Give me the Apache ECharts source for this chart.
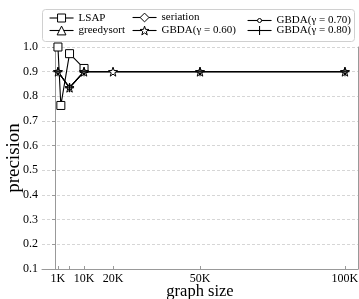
<!DOCTYPE html>
<html><head><meta charset="utf-8">
<script src="https://cdn.jsdelivr.net/npm/echarts@6/dist/echarts.min.js"></script>
<style>html,body{margin:0;padding:0;background:#fff}#c{width:359px;height:299px}</style>
</head><body><div id="c"></div>
<script>
// graph sizes in thousands
const lsapX = [1, 2, 5, 10];
const lsapY = [1.0, 0.763, 0.973, 0.913];
const greedyX = [];
const greedyY = [];
const seriationX = [];
const seriationY = [];
const gbda60X = [1, 5, 10, 20, 50, 100];
const gbda60Y = [0.9, 0.835, 0.9, 0.9, 0.9, 0.9];
const gbda70X = [1, 5, 10, 50, 100];
const gbda70Y = [0.9, 0.835, 0.9, 0.9, 0.9];
const gbda80X = [1, 5, 10, 50, 100];
const gbda80Y = [0.9, 0.835, 0.9, 0.9, 0.9];
const xTicks = [1, 5, 10, 20, 50, 100];
const xTickLabels = [1, 10, 20, 50, 100];
const yTicks = [0.1, 0.2, 0.3, 0.4, 0.5, 0.6, 0.7, 0.8, 0.9, 1.0];
const names = ['LSAP', 'greedysort', 'seriation', 'GBDA(γ = 0.60)', 'GBDA(γ = 0.70)', 'GBDA(γ = 0.80)'];

const FONT = '"Liberation Serif", "DejaVu Serif", serif';
const STAR = 'path://M0,-10 L2.35,-3.24 L9.51,-3.09 L3.8,1.24 L5.88,8.09 L0,4 L-5.88,8.09 L-3.8,1.24 L-9.51,-3.09 L-2.35,-3.24 Z';
const PLUS = 'path://M-0.6,-5 H0.6 V-0.6 H5 V0.6 H0.6 V5 H-0.6 V0.6 H-5 V-0.6 H-0.6 Z';

function zip(xs, ys) { return xs.map((x, i) => [x, ys[i]]); }
function mk(name, xs, ys, symbol, size, filled) {
  return {
    name, type: 'line', data: zip(xs, ys), symbol, symbolSize: size,
    showAllSymbol: true,
    lineStyle: { color: '#000', width: 1.1 },
    itemStyle: filled ? { color: '#000', borderWidth: 0 } : { color: '#fff', borderColor: '#000', borderWidth: 1 },
    emphasis: { disabled: true }, animation: false
  };
}
const series = [
  mk(names[0], lsapX, lsapY, 'rect', 8, false),
  mk(names[1], greedyX, greedyY, 'triangle', 9, false),
  mk(names[2], seriationX, seriationY, 'diamond', 9, false),
  mk(names[3], gbda60X, gbda60Y, STAR, 9, false),
  mk(names[4], gbda70X, gbda70Y, 'circle', 4, false),
  mk(names[5], gbda80X, gbda80Y, PLUS, 9, true)
];
function leg(left, rowCenter, name, ih, filled) {
  return {
    left, top: rowCenter - ih / 2, padding: 0, orient: 'vertical', itemWidth: 24, itemHeight: ih,
    data: [name], selectedMode: false,
    lineStyle: { width: 1.1, color: '#000' },
    itemStyle: filled ? { borderWidth: 0, color: '#000' } : { borderWidth: 1, borderColor: '#000', color: '#fff' },
    textStyle: { fontFamily: FONT, fontSize: 11, color: '#000' },
    z: 10
  };
}
const R1 = 17.5, R2 = 30.5;
const chart = echarts.init(document.getElementById('c'), null, { renderer: 'canvas' });
chart.setOption({
  animation: false,
  grid: { left: 42, right: 1, top: 47, bottom: 30, outerBoundsMode: 'none' },
  graphic: [{ type: 'rect', shape: { x: 42.5, y: 9.5, width: 312, height: 32, r: 3 }, style: { fill: '#fff', stroke: '#d0d0d0', lineWidth: 1 }, z: 5 }],
  legend: [
    leg(49, R1, names[0], 10, false), leg(49, R2, names[1], 11, false),
    leg(132, R1, names[2], 11, false), leg(132, R2, names[3], 11, false),
    leg(247, R1, names[4], 5, false), leg(247, R2, names[5], 11, true)
  ],
  xAxis: {
    type: 'value', min: -4.5, max: 104.5,
    axisLine: { lineStyle: { color: '#999', width: 1 } },
    axisTick: { inside: true, length: 3, lineStyle: { color: '#999' }, customValues: xTicks },
    axisLabel: { customValues: xTickLabels, formatter: v => v + 'K', fontFamily: FONT, fontSize: 12, color: '#000', margin: 4 },
    splitLine: { show: false },
    name: 'graph size', nameLocation: 'middle', nameGap: 14, nameMoveOverlap: false,
    nameTextStyle: { fontFamily: FONT, fontSize: 16.5, color: '#000' }
  },
  yAxis: [{
    type: 'value', min: 0.1, max: 1.0,
    axisLine: { show: true, lineStyle: { color: '#999', width: 1 } },
    axisTick: { show: true, length: 3, lineStyle: { color: '#999' }, customValues: yTicks },
    axisLabel: { customValues: yTicks, formatter: v => v.toFixed(1), fontFamily: FONT, fontSize: 12, color: '#000', margin: 4 },
    splitLine: { show: true, lineStyle: { color: '#ccc', type: [3, 2], width: 0.8 }, showMinLine: false },
    name: 'precision', nameLocation: 'middle', nameGap: 18, nameMoveOverlap: false,
    nameTextStyle: { fontFamily: FONT, fontSize: 19, color: '#000' }
  }, {
    type: 'value', min: 0.1, max: 1.0, position: 'right',
    axisLine: { show: true, lineStyle: { color: '#999', width: 1 } },
    axisTick: { show: false }, axisLabel: { show: false }, splitLine: { show: false }
  }],
  series
});
</script></body></html>
